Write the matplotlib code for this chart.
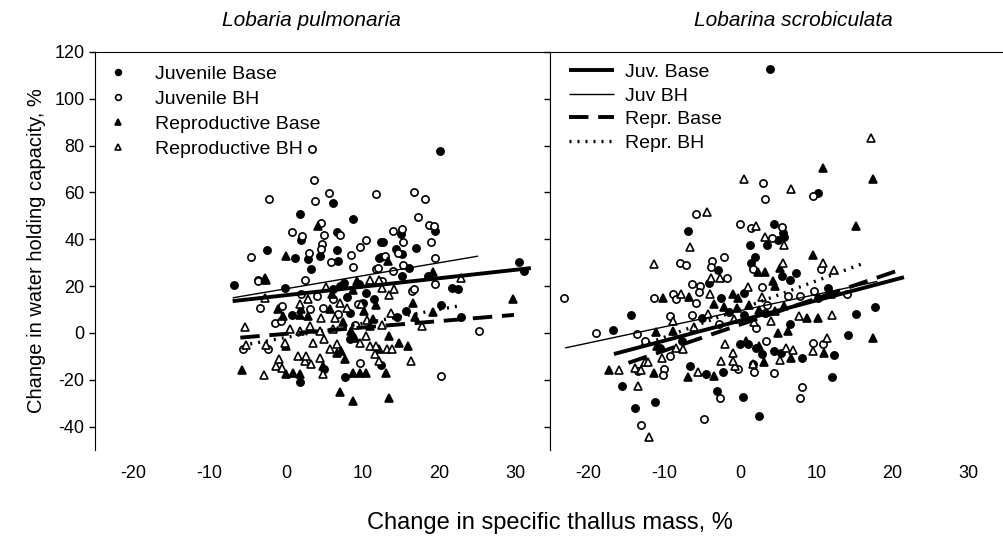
import matplotlib
matplotlib.use("Agg")
import matplotlib.pyplot as plt
import numpy as np

plt.rcParams["font.family"] = ["Liberation Sans", "DejaVu Sans"]
plt.rcParams["axes.unicode_minus"] = False

# ---- Lobaria pulmonaria ----
LP_JB_X = [6.1, 1.8, 8.7, 1.9, 6.6, 12.4, -2.5, 1.1, 6.7, 4.4, 2.9, 6.8, 12.4, 3.3,
           20.1, 19.5, 15.0, 12.6, 17.0, 14.4, 15.1, 12.2, 16.1, 30.4, 31.1, 18.5, 15.1,
           -6.8, -0.2, 0.7, 1.8, 5.0, 7.7, 8.3, 6.1, 7.0, 8.3, 10.1,
           21.7, 22.5, 20.2, 15.7, 14.5, 22.9, 12.4,
           7.5, 9.5, 10.5, 11.5, 8.0]
LP_JB_Y = [55.3, 50.6, 48.8, 39.9, 43.1, 38.9, 35.5, 31.8, 35.6, 32.8, 31.4, 30.9, 32.3, 27.4,
           77.7, 43.4, 42.4, 38.7, 36.3, 35.9, 33.7, 32.0, 27.8, 30.3, 26.4, 24.3, 24.3,
           20.3, 19.3, 7.5, -20.9, -15.4, -19.0, 8.6, 18.6, 20.0, -2.7, 12.9,
           19.3, 18.6, 11.8, 9.4, 6.9, 6.9, -13.8,
           21.5, 20.8, 17.0, 14.5, 15.5]

LP_JH_X = [3.4, 3.7, 5.6, -2.3, 3.8, 11.8, 4.6, 0.8, 2.1, 5.0, 7.0, 4.7, 10.5, 9.6, -4.6,
           3.0, 4.5, 8.5, 5.8, 8.7, 11.8, -3.7,
           16.7, 18.1, 17.2, 18.7, 19.3, 14.0, 15.1, 15.3, 19.0, 14.6, 12.9, 19.4, 15.3, 12.0, 14.0,
           -3.7, -3.4, 1.9, -0.5, -1.5, -0.7, -5.7, -2.4, 9.6, 3.1, 4.8, 2.4, 4.0, 6.1, 9.4,
           12.5, 16.4, 16.7, 19.5, 25.2, 20.3,
           6.8, 9.0]
LP_JH_Y = [78.7, 65.4, 59.7, 57.3, 56.5, 59.3, 47.0, 43.1, 41.3, 42.0, 42.0, 38.2, 39.6, 36.7, 32.5,
           34.2, 36.0, 33.5, 30.3, 28.1, 27.1, 22.8,
           60.4, 57.3, 49.4, 46.2, 45.8, 43.4, 44.4, 38.9, 38.7, 34.2, 32.8, 32.0, 28.9, 27.8, 26.4,
           22.1, 10.8, 16.7, 11.5, 4.4, 5.1, -6.9, -6.9, -12.9, 10.1, 10.8, 22.8, 15.7, 14.3, 12.2,
           22.1, 17.9, 18.6, 20.7, 0.9, -18.6,
           8.0, 3.5]

LP_RB_X = [4.2, 0.0, -2.8, 13.3, 19.2, -2.7, -1.1, 1.8, -5.8, 0.0, 0.9, 1.8, 0.0, 4.8, 7.0, 8.7,
           6.6, 7.2, 7.7, 8.5, 9.0, 8.7, 9.6, 10.5, 10.9, 11.4, 2.9, 2.0, -0.4, 5.7, 9.2,
           29.6, 16.6, 19.2, 16.8, 13.5, 14.7, 15.9, 12.2, 13.1, 13.4,
           6.0, 8.8, 10.2, 7.4, 11.8]
LP_RB_Y = [45.5, 32.8, 23.5, 30.9, 26.1, 22.8, 10.1, 7.5, -15.9, -17.6, -16.9, -17.6, -5.5, -14.0, -25.1, -28.9,
           -8.4, -7.7, -11.2, 0.9, -2.0, -16.9, -16.9, -16.9, 3.0, 5.8, 7.2, 10.1, 7.2, 10.1, 22.1,
           14.6, 12.6, 8.9, 6.9, -1.3, -4.1, -5.5, -6.7, -16.9, -28.0,
           16.5, 18.2, 9.5, 4.5, 12.0]

LP_RH_X = [22.8, -2.8, -5.4, -5.3, -2.7, -2.9, -1.3, -1.0, -0.6, -0.2, 1.6, 2.4, 3.3, 4.8, 10.9, 12.2,
           0.5, 1.8, 3.1, 4.4, 6.1, 3.5, 5.0, 6.6, 2.6, 4.4, 5.7, 9.6, 10.5, 9.8, 10.9, 11.8, 11.6, 12.2,
           4.6, 6.4, 1.8, 2.9, 7.0,
           12.5, 13.5, 14.1, 13.7, 17.7, 12.5, 13.2, 13.9, 16.3,
           5.2, 8.0, 10.6]
LP_RH_Y = [23.5, 15.0, 2.7, -5.1, -5.2, -17.9, -14.0, -11.2, -14.8, -4.1, -9.8, -11.9, -13.3, -17.6, 22.8, 22.5,
           1.6, 0.9, 3.0, 0.9, 1.6, -4.1, -2.7, -4.8, -9.8, -10.5, -6.9, -4.1, -1.3, 12.2, -5.5, -5.5, -9.1, -11.9,
           6.5, 6.5, 12.2, 14.3, 12.9,
           19.3, 16.0, 18.6, 8.4, 3.0, 3.3, -6.7, -6.7, -11.9,
           19.5, 10.5, 5.5]

# fitted lines (end points): Juv Base, Juv BH, Repr Base, Repr BH
LP_FIT_X = [(-7.0, 32.0), (-7.0, 25.1), (-6.0, 29.8), (-4.7, 22.5)]
LP_FIT_Y = [(13.6, 27.7), (15.0, 32.8), (-2.0, 7.7), (-4.7, 11.5)]

# ---- Lobarina scrobiculata ----
LS_JB_X = [3.9, 10.2, -6.9, 4.4, 5.6, 5.7, 5.0, 1.3, 3.5, -2.9, -4.1, 1.9, 1.4, 5.5, 6.5, 7.3,
           -2.6, 0.5, 10.2, 11.5,
           -14.3, -5.0, -16.7, -10.6, -7.7, -6.6, -15.5, -11.2, -13.9,
           14.1, 12.3, 8.1, 4.4, 5.3, 2.9, 1.7, -2.3, -4.5, -3.0, 0.4, 2.5, 12.0, -0.1, 1.0, 2.1,
           17.7, 15.2,
           -1.5, 0.5, 3.2, 6.5]
LS_JB_Y = [112.9, 59.7, 43.4, 46.7, 42.7, 40.9, 39.6, 37.7, 37.4, 26.7, 21.4, 32.3, 29.9, 24.3, 22.6, 25.7,
           15.0, 17.1, 15.0, 19.3,
           7.7, 6.3, 1.1, -6.3, -3.4, -14.3, -22.6, -29.7, -32.0,
           -0.9, -9.4, -10.8, -7.7, -8.4, -8.8, -13.3, -16.5, -17.6, -24.7, -27.5, -35.3, -18.9, -4.8, -4.8, -6.3,
           11.1, 8.2,
           9.0, 7.5, 8.5, 4.0]

LS_JH_X = [3.0, 9.5, 3.3, 0.0, 1.4, 5.5, 4.1, -3.7, -2.1, -3.9, 1.7, -1.7, 10.6, 2.9, 6.2, 7.8, 9.7, 14.0,
           -5.8, -7.9, -7.1, -6.4, -5.3, -5.4, -23.1, -11.4, -8.8, -8.4, -5.8,
           -9.3, -6.3, -18.9, -13.6, -12.5, -9.3, -10.0, -10.1, -13.4, -13.0, -4.8,
           9.6, 10.8, 1.8, -0.3, 4.4, -2.7, 8.1, 7.9, 3.4,
           -2.8, 2.0, 3.5]
LS_JH_Y = [64.0, 58.6, 57.2, 46.7, 44.8, 45.2, 40.6, 30.9, 32.3, 28.1, 27.1, 23.3, 27.1, 19.6, 15.7, 15.7, 17.9, 16.7,
           50.8, 29.9, 29.2, 21.0, 20.0, 17.4, 14.8, 14.8, 16.5, 14.3, 12.9,
           7.2, 7.5, 0.1, -0.3, -3.4, -9.8, -15.5, -17.9, -16.2, -39.3, -36.7,
           -4.1, -4.8, -16.5, -15.5, -17.2, -27.8, -23.3, -27.8, -3.4,
           4.0, 2.0, 12.0]

LS_RB_X = [10.8, 17.4, 15.2, 2.3, 3.3, 5.2, 9.6, 4.3, 4.6, -1.0, -0.3, -10.1, -6.7,
           -11.1, -8.8, -11.0, -17.3, -11.3, -6.9,
           8.8, 10.2, 11.0, 6.6, 3.1, -3.4, 0.8, 2.5, 5.0, 6.2, 17.4,
           -3.4, -2.1, -0.5, 1.2, 2.5, 4.5, 5.8]
LS_RB_Y = [70.6, 65.8, 45.8, 26.1, 26.0, 27.8, 33.2, 22.1, 20.0, 16.5, 15.0, 15.0, 15.3,
           0.6, 0.9, -5.5, -15.7, -16.9, -19.0,
           6.5, 6.5, -8.4, -10.8, -12.6, -18.3, -3.4, -5.5, 0.1, 0.9, -2.0,
           12.5, 11.0, 10.5, 12.0, 10.0, 9.5, 11.5]

LS_RH_X = [17.1, 0.5, 6.6, -4.4, 2.0, 3.2, 5.7, 5.6, 10.9, 12.3, -3.8, -2.7, -4.0, 1.0, 2.8, 11.9,
           -6.6, -11.4, -7.8,
           -8.8, -6.1, -8.4, -7.5, -10.3, -12.5, -12.1, -16.0, -13.8, -13.0, -5.5, -13.5, -12.0,
           12.1, 7.7, 11.4, 9.6, 6.0, 6.9, 5.2, 1.7, -0.7, -1.0, -2.5, -1.0, -2.0,
           -4.2, -0.8, 1.8, 4.0]
LS_RH_Y = [83.4, 65.8, 61.6, 51.6, 45.5, 40.9, 37.4, 29.9, 29.9, 26.7, 23.5, 23.5, 16.5, 19.6, 15.3, 16.5,
           36.6, 29.5, 16.5,
           5.1, 2.7, -6.3, -6.9, -10.8, -12.6, -12.2, -15.7, -14.8, -15.9, -16.6, -22.8, -44.3,
           7.7, 7.2, -2.3, -7.7, -6.3, -7.4, -11.6, -13.3, -14.0, -11.9, -11.9, -8.4, -4.8,
           8.0, 6.0, 4.5, 5.0]

LS_FIT_X = [(-16.6, 21.5), (-23.0, 18.0), (-14.7, 21.0), (-13.0, 16.4)]
LS_FIT_Y = [(-9.0, 23.8), (-6.4, 22.0), (-12.8, 27.0), (-5.5, 30.0)]

SERIES = ["Juvenile Base", "Juvenile BH", "Reproductive Base", "Reproductive BH"]
FIT_LABELS = ["Juv. Base", "Juv BH", "Repr. Base", "Repr. BH"]

MARKERS = [("o", "black"), ("o", "white"), ("^", "black"), ("^", "white")]
FIT_STYLES = [dict(lw=2.8, ls="-"), dict(lw=1.0, ls="-"),
              dict(lw=2.8, ls=(0, (5, 2.5))), dict(lw=2.4, ls=(0, (0.6, 1.8)))]

W, H = 1004, 538
fig = plt.figure(figsize=(W / 100, H / 100), dpi=100)
x0, xm, x1 = 95, 550, 1003
ytop, ybot = 52, 450
ax1 = fig.add_axes([x0 / W, 1 - ybot / H, (xm - x0) / W, (ybot - ytop) / H])
ax2 = fig.add_axes([xm / W, 1 - ybot / H, (x1 - xm) / W, (ybot - ytop) / H])


def draw(ax, pts, fx, fy):
    for (xs, ys), (m, fc), lab in zip(pts, MARKERS, SERIES):
        ax.plot(xs, ys, ls="none", marker=m, ms=5.2, mfc=fc, mec="black",
                mew=1.2, label=lab, zorder=3)
    lines = []
    for xs, ys, st, lab in zip(fx, fy, FIT_STYLES, FIT_LABELS):
        ln, = ax.plot(xs, ys, color="black", solid_capstyle="butt",
                      dash_capstyle="butt", label=lab, zorder=4, **st)
        lines.append(ln)
    ax.set_xlim(-25, 34.5)
    ax.set_ylim(-50, 120)
    ax.set_xticks(range(-20, 31, 10))
    ax.set_yticks(range(-40, 121, 20))
    ax.tick_params(direction="out", length=4, width=1, labelsize=13)
    ax.spines["bottom"].set_visible(False)
    ax.tick_params(axis="x", length=0, pad=11)
    return lines


pts1 = [(LP_JB_X, LP_JB_Y), (LP_JH_X, LP_JH_Y), (LP_RB_X, LP_RB_Y), (LP_RH_X, LP_RH_Y)]
pts2 = [(LS_JB_X, LS_JB_Y), (LS_JH_X, LS_JH_Y), (LS_RB_X, LS_RB_Y), (LS_RH_X, LS_RH_Y)]
draw(ax1, pts1, LP_FIT_X, LP_FIT_Y)
lines2 = draw(ax2, pts2, LS_FIT_X, LS_FIT_Y)
ax2.tick_params(axis="y", labelleft=False)
ax2.spines["right"].set_visible(False)

ax1.legend(handles=ax1.lines[:4], loc="upper left", frameon=False, fontsize=14,
           markerscale=0.8, handlelength=1.0, handletextpad=1.4, labelspacing=0.38,
           borderaxespad=0.3, bbox_to_anchor=(0.0, 1.0))
ax2.legend(handles=lines2, loc="upper left", frameon=False, fontsize=14,
           handlelength=2.3, handletextpad=0.6, labelspacing=0.3,
           borderaxespad=0.3, bbox_to_anchor=(0.012, 1.005))

fig.text(311 / W, 1 - 20 / H, "Lobaria pulmonaria", style="italic", fontsize=15,
         ha="center", va="center")
fig.text(793 / W, 1 - 20 / H, "Lobarina scrobiculata", style="italic", fontsize=15,
         ha="center", va="center")
ax1.set_ylabel("Change in water holding capacity, %", fontsize=14.5, labelpad=6)
fig.text(0.548, 1 - 523 / H, "Change in specific thallus mass, %", ha="center",
         va="center", fontsize=17)

fig.savefig("out.png", dpi=100)
